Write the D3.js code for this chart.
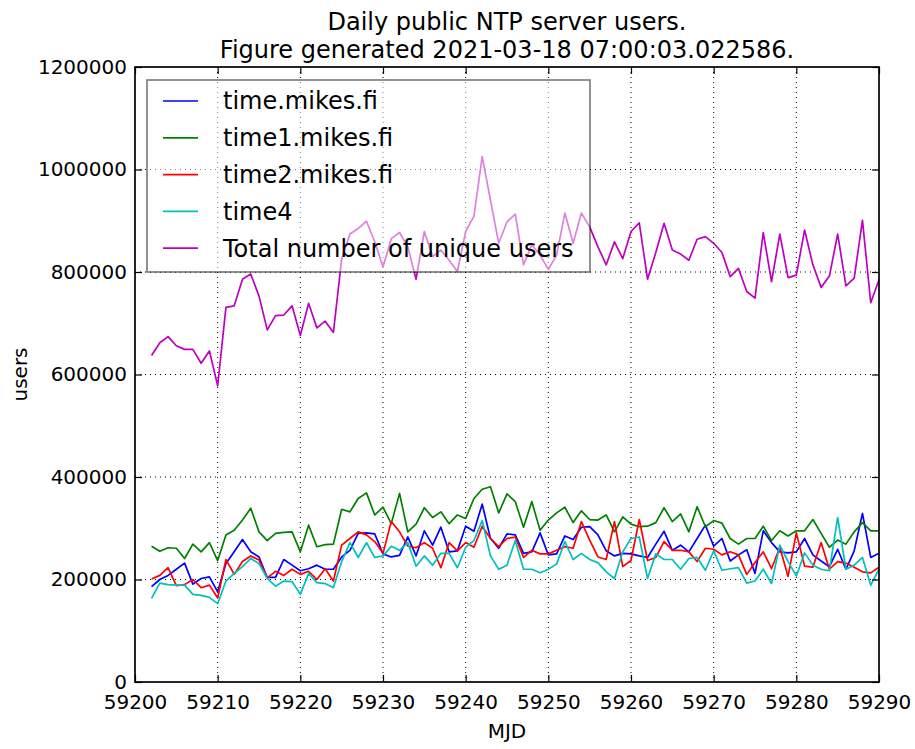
<!DOCTYPE html>
<html lang="en">
<head>
<meta charset="utf-8">
<title>Daily public NTP server users</title>
<script src="https://cdnjs.cloudflare.com/ajax/libs/d3/7.8.5/d3.min.js"></script>
<style>
  body { margin: 0; background: #fff; }
  svg text { font-family: "DejaVu Sans", sans-serif; fill: #000; }
</style>
</head>
<body>
<div id="chart"></div>
<script>
// MJD days shown on the x axis
const days = d3.range(59202, 59291);

const timeMikes = [186000, 200000, 208000, 220000, 232000, 191000, 202000, 205000, 176000, 231000, 254000, 278000, 254000, 244000, 204000, 204000, 239000,
  228000, 217000, 221000, 228000, 220000, 220000, 244000, 257000, 290000, 291000, 289000, 250000, 244000, 247000, 283000, 246000, 295000, 267000,
  302000, 254000, 256000, 304000, 294000, 347000, 280000, 261000, 289000, 287000, 251000, 254000, 291000, 248000, 250000, 285000, 278000, 302000,
  303000, 287000, 256000, 246000, 251000, 250000, 246000, 243000, 269000, 294000, 257000, 267000, 254000, 280000, 306000, 265000, 280000, 236000,
  248000, 258000, 212000, 295000, 272000, 254000, 252000, 254000, 280000, 248000, 236000, 225000, 259000, 220000, 256000, 329000, 243000, 251000];

const time1Mikes = [265000, 255000, 262000, 261000, 241000, 269000, 254000, 272000, 237000, 287000, 296000, 316000, 339000, 293000, 276000, 290000, 292000,
  293000, 254000, 306000, 264000, 268000, 269000, 337000, 332000, 358000, 369000, 326000, 341000, 309000, 368000, 293000, 308000, 340000, 321000,
  332000, 309000, 326000, 319000, 358000, 376000, 381000, 330000, 367000, 352000, 302000, 352000, 296000, 316000, 330000, 341000, 311000, 334000,
  317000, 316000, 326000, 293000, 322000, 308000, 303000, 304000, 311000, 340000, 313000, 328000, 293000, 342000, 303000, 315000, 310000, 280000,
  269000, 280000, 280000, 304000, 276000, 295000, 285000, 295000, 295000, 317000, 290000, 263000, 277000, 269000, 293000, 311000, 295000, 295000];

const time2Mikes = [201000, 208000, 223000, 188000, 190000, 200000, 184000, 189000, 164000, 239000, 210000, 235000, 246000, 238000, 203000, 216000, 208000,
  220000, 210000, 216000, 200000, 221000, 197000, 267000, 280000, 293000, 287000, 274000, 251000, 313000, 293000, 265000, 262000, 272000, 261000,
  223000, 272000, 256000, 272000, 263000, 304000, 280000, 264000, 280000, 283000, 243000, 257000, 250000, 250000, 257000, 264000, 261000, 313000,
  277000, 244000, 239000, 313000, 225000, 237000, 317000, 237000, 243000, 274000, 257000, 257000, 254000, 235000, 261000, 259000, 248000, 254000,
  248000, 210000, 233000, 254000, 221000, 263000, 206000, 291000, 226000, 224000, 272000, 220000, 235000, 232000, 224000, 215000, 213000, 224000];

const time4 = [163000, 193000, 190000, 189000, 189000, 171000, 169000, 165000, 153000, 197000, 212000, 225000, 241000, 231000, 202000, 187000, 197000,
  196000, 171000, 212000, 194000, 192000, 184000, 235000, 272000, 243000, 272000, 243000, 246000, 265000, 257000, 272000, 226000, 246000, 228000,
  251000, 251000, 223000, 263000, 276000, 315000, 246000, 220000, 228000, 276000, 220000, 220000, 213000, 220000, 230000, 274000, 239000, 251000,
  239000, 233000, 215000, 202000, 254000, 280000, 283000, 202000, 250000, 239000, 239000, 220000, 241000, 243000, 218000, 256000, 218000, 221000,
  223000, 193000, 197000, 220000, 192000, 267000, 235000, 207000, 252000, 228000, 220000, 217000, 321000, 220000, 228000, 243000, 189000, 220000];

const totalUnique = [637000, 662000, 674000, 656000, 649000, 649000, 622000, 646000, 578000, 731000, 734000, 786000, 796000, 753000, 687000, 715000, 716000,
  734000, 676000, 739000, 691000, 704000, 682000, 825000, 874000, 885000, 899000, 859000, 810000, 865000, 877000, 849000, 786000, 879000, 830000,
  843000, 823000, 801000, 879000, 909000, 1025000, 940000, 856000, 898000, 913000, 814000, 853000, 833000, 805000, 833000, 915000, 856000, 915000,
  888000, 849000, 814000, 859000, 826000, 879000, 896000, 786000, 838000, 895000, 843000, 835000, 823000, 864000, 869000, 856000, 838000, 791000,
  807000, 762000, 749000, 877000, 781000, 874000, 789000, 794000, 882000, 814000, 770000, 792000, 874000, 773000, 788000, 901000, 740000, 785000];

const seriesNames = ["time.mikes.fi", "time1.mikes.fi", "time2.mikes.fi", "time4", "Total number of unique users"];
const seriesColors = ["#0000ff", "#008000", "#ff0000", "#00bfbf", "#bf00bf"];
const seriesValues = [timeMikes, time1Mikes, time2Mikes, time4, totalUnique];

const xTicks = [59200, 59210, 59220, 59230, 59240, 59250, 59260, 59270, 59280, 59290];
const yTicks = [0, 200000, 400000, 600000, 800000, 1000000, 1200000];

const W = 915, H = 749;
const mLeft = 135, mRight = 879, mTop = 67, mBottom = 682;

const svg = d3.select("#chart").append("svg")
  .attr("width", W).attr("height", H);

const x = d3.scaleLinear().domain([59200, 59290]).range([mLeft, mRight]);
const y = d3.scaleLinear().domain([0, 1200000]).range([mBottom, mTop]);

// grid
const grid = svg.append("g").attr("stroke", "#000").attr("stroke-width", 1)
  .attr("stroke-dasharray", "1,4");
grid.selectAll(".gx").data(xTicks.slice(1, -1)).enter().append("line")
  .attr("x1", d => x(d)).attr("x2", d => x(d)).attr("y1", mTop).attr("y2", mBottom);
grid.selectAll(".gy").data(yTicks.slice(1, -1)).enter().append("line")
  .attr("x1", mLeft).attr("x2", mRight).attr("y1", d => y(d)).attr("y2", d => y(d));

// lines
const line = d3.line().x((d, i) => x(days[i])).y(d => y(d));
svg.append("g").selectAll("path").data(seriesValues).enter().append("path")
  .attr("d", d => line(d))
  .attr("fill", "none")
  .attr("stroke", (d, i) => seriesColors[i])
  .attr("stroke-width", 1.7)
  .attr("stroke-linejoin", "round");

// legend
const lg = svg.append("g").attr("transform", "translate(147,80)");
lg.append("rect").attr("width", 443).attr("height", 192)
  .attr("fill", "#fff").attr("fill-opacity", 0.5)
  .attr("stroke", "#000").attr("stroke-opacity", 0.5).attr("stroke-width", 1.7);
const items = lg.selectAll(".item").data(seriesNames).enter().append("g")
  .attr("transform", (d, i) => "translate(0," + (21 + i * 36.8) + ")");
items.append("line").attr("x1", 16).attr("x2", 51)
  .attr("stroke", (d, i) => seriesColors[i]).attr("stroke-width", 1.7);
items.append("text").attr("x", 76).attr("dy", "0.35em")
  .style("font-size", "24px").text(d => d);

// axes (ticks inward on all sides)
const fmt = d3.format("d");
svg.append("g").attr("transform", "translate(0," + mBottom + ")")
  .call(d3.axisBottom(x).tickValues(xTicks).tickFormat(fmt).tickSize(-7).tickPadding(13))
  .call(g => g.select(".domain").remove())
  .call(g => g.selectAll("text").style("font-size", "20px"));
svg.append("g").attr("transform", "translate(0," + mTop + ")")
  .call(d3.axisTop(x).tickValues(xTicks).tickFormat("").tickSize(-7))
  .call(g => g.select(".domain").remove());
svg.append("g").attr("transform", "translate(" + mLeft + ",0)")
  .call(d3.axisLeft(y).tickValues(yTicks).tickFormat(fmt).tickSize(-7).tickPadding(8))
  .call(g => g.select(".domain").remove())
  .call(g => g.selectAll("text").style("font-size", "20px"));
svg.append("g").attr("transform", "translate(" + mRight + ",0)")
  .call(d3.axisRight(y).tickValues(yTicks).tickFormat("").tickSize(-7))
  .call(g => g.select(".domain").remove());
svg.selectAll(".tick line").attr("stroke", "#000").attr("stroke-width", 1.2);

svg.append("rect").attr("x", mLeft).attr("y", mTop)
  .attr("width", mRight - mLeft).attr("height", mBottom - mTop)
  .attr("fill", "none").attr("stroke", "#000").attr("stroke-width", 1.7);

// titles
svg.append("text").attr("x", (mLeft + mRight) / 2).attr("y", 30)
  .attr("text-anchor", "middle").style("font-size", "24px")
  .text("Daily public NTP server users.");
svg.append("text").attr("x", (mLeft + mRight) / 2).attr("y", 58)
  .attr("text-anchor", "middle").style("font-size", "24px")
  .text("Figure generated 2021-03-18 07:00:03.022586.");
svg.append("text").attr("x", (mLeft + mRight) / 2).attr("y", 738)
  .attr("text-anchor", "middle").style("font-size", "20px").text("MJD");
svg.append("text").attr("transform", "translate(27," + ((mTop + mBottom) / 2) + ") rotate(-90)")
  .attr("text-anchor", "middle").style("font-size", "20px").text("users");
</script>
</body>
</html>
